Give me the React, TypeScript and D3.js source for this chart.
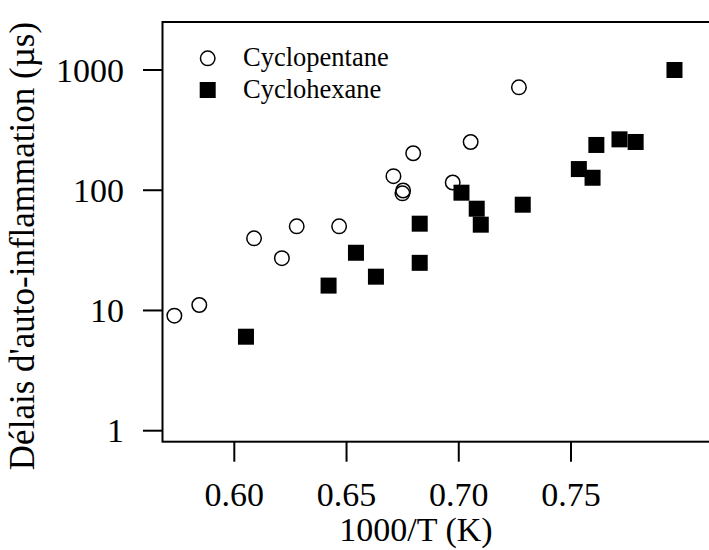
import React from "react";
import * as d3 from "d3";

const cyclopentaneX = [0.5733, 0.5844, 0.6088, 0.6212, 0.6278, 0.6467, 0.6709, 0.6752, 0.6749, 0.6797, 0.6973, 0.7053, 0.7268];
const cyclopentaneY = [9.05, 11.1, 39.8, 27.2, 50.1, 50.1, 131, 99.5, 94.3, 203, 116, 252, 718];

const cyclohexaneX = [0.6052, 0.642, 0.6542, 0.6631, 0.6826, 0.6826, 0.7012, 0.708, 0.7098, 0.7285, 0.7535, 0.7596, 0.7613, 0.7716, 0.7788, 0.7961];
const cyclohexaneY = [6.05, 16.1, 30.2, 19.1, 52.7, 24.9, 95.4, 70.2, 51.7, 75.8, 150, 127, 238, 265, 252, 1000];

const xTicks = [0.6, 0.65, 0.7, 0.75];
const yTicks = [1, 10, 100, 1000];
const seriesNames = ["Cyclopentane", "Cyclohexane"];
const xTitle = "1000/T (K)";
const yTitle = "Délais d'auto-inflammation (µs)";

const W = 709;
const H = 550;
const FONT = "'Liberation Serif', 'Times New Roman', serif";

export default function App() {
  const x = d3.scaleLinear().domain([0.6, 0.75]).range([234.3, 571]);
  const y = d3.scaleLog().domain([1, 1000]).range([430.7, 70]);
  const left = 162.5, top = 22, bottom = 441.7, right = 730;
  const r = 8;
  const s = 16;

  return (
    <svg width={W} height={H} style={{ position: "absolute", left: 0, top: 0, background: "#fff" }} fontFamily={FONT}>
      <rect x={0} y={0} width={W} height={H} fill="#fff" />
      <rect x={left} y={top} width={right - left} height={bottom - top} fill="none" stroke="#000" strokeWidth={2} />
      {xTicks.map((t) => (
        <g key={"x" + t}>
          <line x1={x(t)} x2={x(t)} y1={bottom} y2={bottom + 20} stroke="#000" strokeWidth={2} />
          <text x={x(t)} y={505.5} textAnchor="middle" fontSize={34}>{d3.format(".2f")(t)}</text>
        </g>
      ))}
      {yTicks.map((t) => (
        <g key={"y" + t}>
          <line x1={left - 19.5} x2={left} y1={y(t)} y2={y(t)} stroke="#000" strokeWidth={2} />
          <text x={124} y={y(t) + 11.5} textAnchor="end" fontSize={34}>{t}</text>
        </g>
      ))}
      <text x={416} y={541} textAnchor="middle" fontSize={34}>{xTitle}</text>
      <text transform={`translate(34,246) rotate(-90)`} textAnchor="middle" fontSize={35}>{yTitle}</text>
      {cyclopentaneX.map((v, i) => (
        <circle key={"c" + i} cx={x(v)} cy={y(cyclopentaneY[i])} r={r - 0.75} fill="none" stroke="#000" strokeWidth={1.5} />
      ))}
      {cyclohexaneX.map((v, i) => (
        <rect key={"h" + i} x={x(v) - s / 2} y={y(cyclohexaneY[i]) - s / 2} width={s} height={s} fill="#000" />
      ))}
      <circle cx={207.7} cy={58.3} r={r - 0.75} fill="none" stroke="#000" strokeWidth={1.5} />
      <text x={243} y={65.5} fontSize={26.5}>{seriesNames[0]}</text>
      <rect x={207.7 - s / 2} y={90 - s / 2} width={s} height={s} fill="#000" />
      <text x={243} y={98.3} fontSize={26.5}>{seriesNames[1]}</text>
    </svg>
  );
}
